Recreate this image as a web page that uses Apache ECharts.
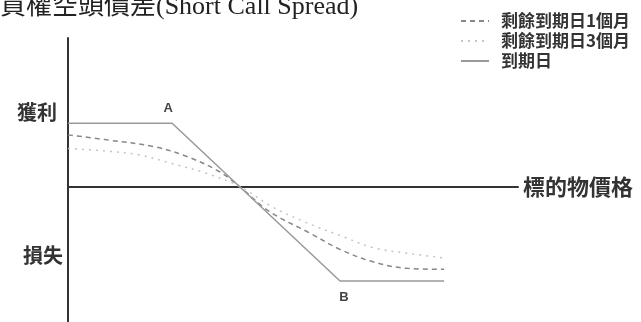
<!DOCTYPE html>
<html>
<head>
<meta charset="utf-8">
<script src="https://cdn.jsdelivr.net/npm/echarts@6/dist/echarts.min.js"></script>
<style>
  html, body { margin: 0; padding: 0; background: #fff; }
  #chart { width: 641px; height: 322px; }
</style>
</head>
<body>
<div id="chart"></div>
<script>
// Short call spread payoff: sell call at K1 (A), buy call at K2 (B)
const seriesNames = ['剩餘到期日1個月', '剩餘到期日3個月', '到期日'];

// price / payoff pairs
const month1 = [[46.9, 1.63], [48, 1.48], [49.5, 1.25], [50.5, 0.92], [51.4, 0.47], [52, 0],
                [52.9, -0.8], [54.1, -1.48], [55, -2.0], [56, -2.4], [57, -2.6], [58.1, -2.63]];
const month3 = [[46.9, 1.2], [48, 1.12], [49, 1.0], [50, 0.72], [51, 0.42], [52, 0],
                [53, -0.66], [54, -1.15], [55.1, -1.6], [56, -1.95], [57, -2.12], [58.1, -2.27]];
const expiry = [[46.9, 2], [50, 2], [55, -3], [58.1, -3]];

// strike points labelled on the expiry line
const strikeA = [50, 2];
const strikeB = [55, -3];

const cjk = '"Noto Sans CJK TC", "Noto Sans CJK SC", sans-serif';

const chart = echarts.init(document.getElementById('chart'), null, { renderer: 'canvas' });

chart.setOption({
  animation: false,
  backgroundColor: '#fff',
  grid: { left: 68, right: 123, top: 38, bottom: 0 },
  xAxis: {
    type: 'value', min: 46.9, max: 60.3,
    name: '標的物價格', nameLocation: 'end', nameGap: 5,
    nameTextStyle: { fontFamily: cjk, fontSize: 22, fontWeight: 'bold', color: '#333', padding: [0, 0, 10, 0] },
    axisLine: { show: true, onZero: true, lineStyle: { color: '#333', width: 2 } },
    axisTick: { show: false }, axisLabel: { show: false }, splitLine: { show: false }
  },
  yAxis: {
    type: 'value', min: -4.3, max: 4.7,
    axisLine: { show: true, onZero: false, lineStyle: { color: '#333', width: 2 } },
    axisTick: { show: false }, axisLabel: { show: false }, splitLine: { show: false }
  },
  legend: {
    orient: 'vertical', left: 460, top: 11, itemGap: 0, padding: 0,
    itemWidth: 28, itemHeight: 12,
    itemStyle: { opacity: 0 },
    textStyle: { fontFamily: cjk, fontSize: 17, fontWeight: 'bold', color: '#333', lineHeight: 20, padding: [0, 0, 0, 7] },
    data: seriesNames
  },
  graphic: [
    { type: 'text', x: 0, y: 20,
      style: { text: '買權空頭價差(Short Call Spread)', fontFamily: '"Liberation Serif", "Noto Sans CJK TC", serif',
               fontSize: 26, fill: '#222', verticalAlign: 'bottom' } },
    { type: 'text', x: 17, y: 112,
      style: { text: '獲利', fontFamily: cjk, fontSize: 20, fontWeight: 'bold', fill: '#333', verticalAlign: 'middle' } },
    { type: 'text', x: 23, y: 255,
      style: { text: '損失', fontFamily: cjk, fontSize: 20, fontWeight: 'bold', fill: '#333', verticalAlign: 'middle' } }
  ],
  series: [
    { name: seriesNames[0], type: 'line', data: month1, smooth: 0.35, symbol: 'none',
      lineStyle: { color: '#888', width: 1.5, type: [5, 4] }, itemStyle: { color: '#888' } },
    { name: seriesNames[1], type: 'line', data: month3, smooth: 0.35, symbol: 'none',
      lineStyle: { color: '#c4c4c4', width: 1.5, type: [2, 5] }, itemStyle: { color: '#c4c4c4' } },
    { name: seriesNames[2], type: 'line', data: expiry, symbol: 'none',
      lineStyle: { color: '#999', width: 1.5 }, itemStyle: { color: '#999' },
      markPoint: {
        symbol: 'circle', symbolSize: 0,
        label: { show: true, fontFamily: '"Liberation Sans", sans-serif', fontSize: 13, fontWeight: 'bold', color: '#444' },
        data: [
          { coord: strikeA, value: 'A', label: { formatter: 'A', position: 'top', offset: [-4, -3] } },
          { coord: strikeB, value: 'B', label: { formatter: 'B', position: 'bottom', offset: [4, 5] } }
        ]
      } }
  ]
});
</script>
</body>
</html>
